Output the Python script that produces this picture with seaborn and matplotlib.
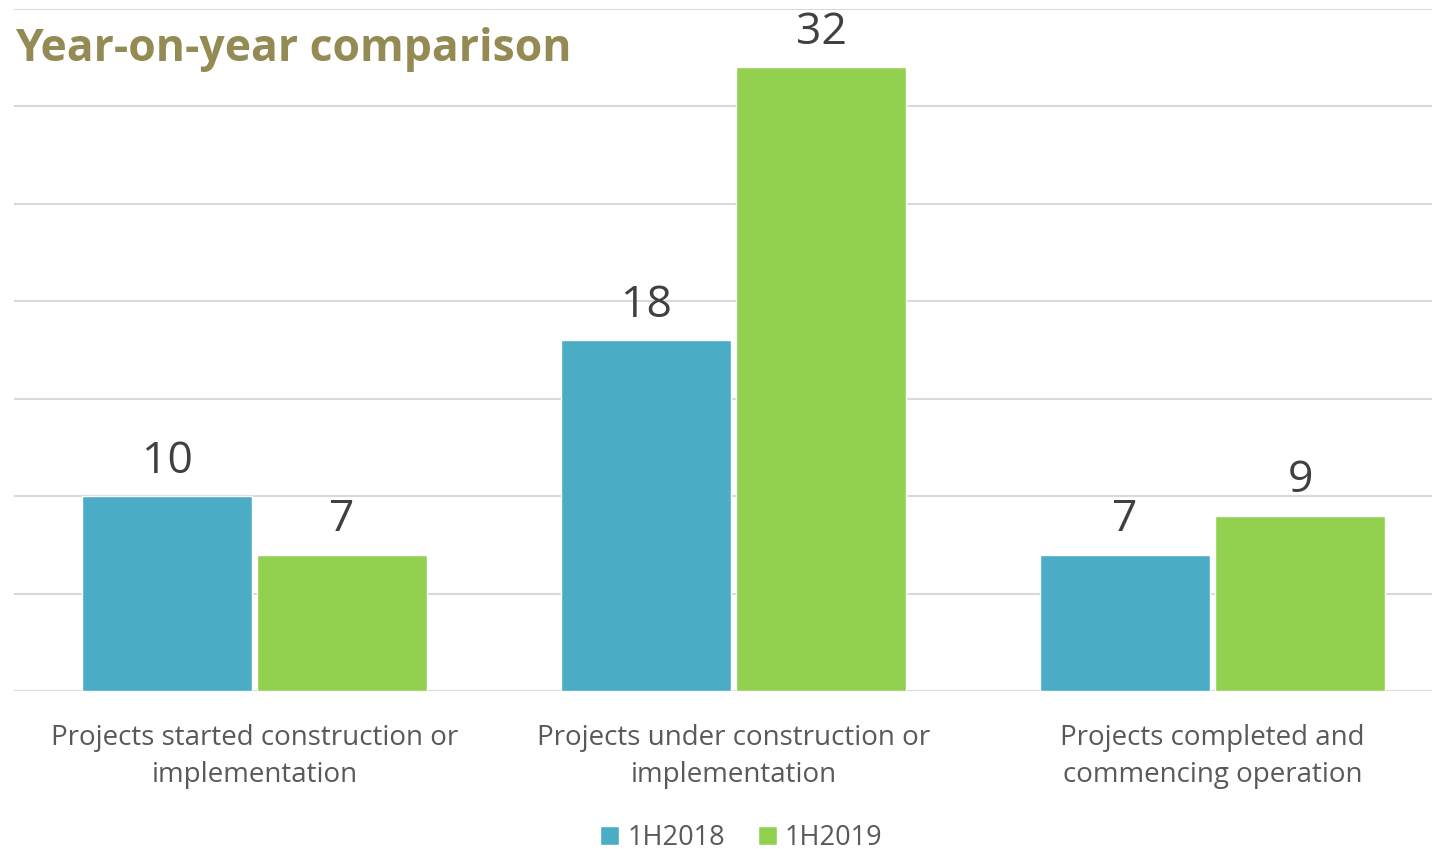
import pandas as pd
import numpy as np
import matplotlib.pyplot as plt
import seaborn as sns

categories = ["Projects started construction or\nimplementation",
              "Projects under construction or\nimplementation",
              "Projects completed and\ncommencing operation"]
periods = ["1H2018", "1H2019"]
values_2018 = [10, 18, 7]
values_2019 = [7, 32, 9]

colors = {"1H2018": "#4BACC6", "1H2019": "#92D050"}
title_color = "#948A54"
text_color = "#595959"

# long table for seaborn
data = pd.DataFrame({
    "category": categories * 2,
    "period": [periods[0]] * 3 + [periods[1]] * 3,
    "value": values_2018 + values_2019,
})

sns.set_style("white")
plt.rcParams['font.family'] = ['Open Sans', 'DejaVu Sans']

fig = plt.figure(figsize=(14.32, 8.49), dpi=100)
ax = fig.add_axes([14 / 1432, 158 / 849, 1 - 14 / 1432, (691 - 9) / 849])

sns.barplot(data=data, x="category", y="value", hue="period", order=categories,
            hue_order=periods, palette=colors, width=0.73, gap=0.03,
            saturation=1, ax=ax, legend=True)

ax.set_ylim(0, 35)
ax.set_xlim(-0.502, 2.458)
ax.set_yticks(np.arange(0, 36, 5))
ax.yaxis.grid(True, color="#D9D9D9", linewidth=1.5)
ax.set_axisbelow(True)
ax.tick_params(axis="y", left=False, labelleft=False)
ax.tick_params(axis="x", bottom=False, labelsize=20, labelcolor=text_color, pad=20)
for lab in ax.get_xticklabels():
    lab.set_linespacing(1.45)
for s in ax.spines.values():
    s.set_visible(False)
ax.set_xlabel("")
ax.set_ylabel("")

for cont in ax.containers:
    ax.bar_label(cont, fmt="%d", padding=9, fontsize=32, color="#404040")

leg = ax.legend(loc="center", bbox_to_anchor=(0.513, -0.215), ncol=2, frameon=False,
                fontsize=19.5, handlelength=0.7, handleheight=0.7, handletextpad=0.3,
                columnspacing=1.2)
for t in leg.get_texts():
    t.set_color(text_color)

fig.text(15 / 1432, 1 - 49 / 849, "Year-on-year comparison", fontsize=32,
         fontweight="bold", color=title_color, va="center", ha="left")

fig.savefig("out.png", dpi=100)
